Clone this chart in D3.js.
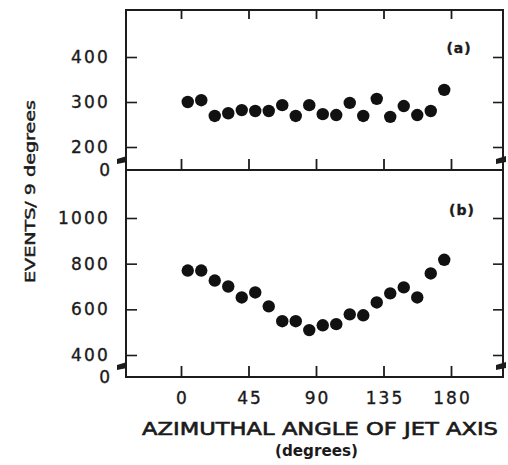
<!DOCTYPE html>
<html>
<head>
<meta charset="utf-8">
<script src="https://cdn.jsdelivr.net/npm/d3@7/dist/d3.min.js"></script>
<style>
  html, body { margin: 0; padding: 0; background: #fff; }
  svg { display: block; }
  text { font-family: "DejaVu Sans", sans-serif; fill: #1a1a1a; stroke: #1a1a1a; stroke-width: 0.35px; }
</style>
</head>
<body>
<svg id="chart" width="508" height="465"></svg>
<script>
// Bin centres (9-degree bins) of the jet-axis azimuthal angle
const angles = [4.5, 13.5, 22.5, 31.5, 40.5, 49.5, 58.5, 67.5, 76.5, 85.5,
                94.5, 103.5, 112.5, 121.5, 130.5, 139.5, 148.5, 157.5, 166.5, 175.5];
// Events per 9 degrees, panel (a)
const eventsA = [300, 304, 269, 275, 282, 280, 280, 293, 269, 293,
                 273, 271, 298, 269, 307, 267, 291, 271, 280, 327];
// Events per 9 degrees, panel (b)
const eventsB = [770, 770, 726, 700, 652, 674, 613, 548, 548, 509,
                 530, 535, 578, 574, 630, 670, 696, 652, 757, 817];

const xTicks = [0, 45, 90, 135, 180];
const yTicksA = [200, 300, 400];
const yTicksB = [400, 600, 800, 1000];

const svg = d3.select("#chart");
const left = 126, right = 503;
const ink = "#1c1c1c";

const x = d3.scaleLinear().domain([0, 180]).range([181, 451]);

const panels = [
  { id: "a", label: "(a)", top: 10, bottom: 170,
    y: d3.scaleLinear().domain([200, 400]).range([147, 57]),
    ticks: yTicksA, data: eventsA, labelY: 53, breakY: 160 },
  { id: "b", label: "(b)", top: 170, bottom: 377,
    y: d3.scaleLinear().domain([400, 1000]).range([355, 218]),
    ticks: yTicksB, data: eventsB, labelY: 215, breakY: 366 }
];

panels.forEach(p => {
  const g = svg.append("g").attr("class", "panel-" + p.id);

  // frame
  g.append("rect")
    .attr("x", left).attr("y", p.top)
    .attr("width", right - left).attr("height", p.bottom - p.top)
    .attr("fill", "none").attr("stroke", ink).attr("stroke-width", 2);

  // left axis with inward ticks
  const yAxisL = d3.axisLeft(p.y).tickValues(p.ticks).tickFormat(d3.format("d"))
    .tickSizeInner(-11).tickSizeOuter(0).tickPadding(16);
  const gl = g.append("g").attr("transform", `translate(${left},0)`).call(yAxisL);
  gl.select(".domain").remove();
  gl.selectAll(".tick line").attr("stroke", ink).attr("stroke-width", 1.6);
  gl.selectAll(".tick text")
    .attr("font-size", 17).attr("letter-spacing", 2.2)
    .attr("fill", ink).attr("font-family", "DejaVu Sans");

  // "0" marks the broken axis at the bottom edge
  g.append("text")
    .attr("x", 110).attr("y", p.bottom).attr("dy", "0.36em")
    .attr("text-anchor", "end").attr("font-size", 17)
    .text("0");

  // right axis with inward ticks
  const yAxisR = d3.axisRight(p.y).tickValues(p.ticks)
    .tickSizeInner(-10).tickSizeOuter(0).tickFormat("");
  const gr = g.append("g").attr("transform", `translate(${right},0)`).call(yAxisR);
  gr.select(".domain").remove();
  gr.selectAll(".tick line").attr("stroke", ink).attr("stroke-width", 1.6);

  // bottom ticks pointing up
  const xAxisB = d3.axisBottom(x).tickValues(xTicks)
    .tickSizeInner(-11).tickSizeOuter(0).tickFormat("");
  const gb = g.append("g").attr("transform", `translate(0,${p.bottom})`).call(xAxisB);
  gb.select(".domain").remove();
  gb.selectAll(".tick line").attr("stroke", ink).attr("stroke-width", 1.8);

  // top ticks pointing down (upper panel only)
  if (p.id === "a") {
    const xAxisT = d3.axisTop(x).tickValues(xTicks)
      .tickSizeInner(-9).tickSizeOuter(0).tickFormat("");
    const gt = g.append("g").attr("transform", `translate(0,${p.top})`).call(xAxisT);
    gt.select(".domain").remove();
    gt.selectAll(".tick line").attr("stroke", ink).attr("stroke-width", 1.8);
  }

  // axis-break marks on both sides
  [left - 4, right - 2].forEach(bx => {
    g.append("path")
      .attr("d", `M${bx - 5},${p.breakY - 1} L${bx + 5},${p.breakY - 4} L${bx + 5},${p.breakY + 2} L${bx - 5},${p.breakY + 4} Z`)
      .attr("fill", ink);
  });

  // data points
  g.append("g").selectAll("circle")
    .data(p.data)
    .join("circle")
    .attr("cx", (d, i) => x(angles[i]))
    .attr("cy", d => p.y(d))
    .attr("r", 6.2)
    .attr("fill", "#111");

  // panel letter
  g.append("text")
    .attr("x", p.id === "a" ? 459 : 462).attr("y", p.labelY)
    .attr("text-anchor", "middle").attr("font-size", 14).attr("font-weight", "bold")
    .attr("letter-spacing", 1)
    .text(p.label);
});

// x tick labels
const xAxisLabels = d3.axisBottom(x).tickValues(xTicks)
  .tickSize(0).tickPadding(0);
const gx = svg.append("g").attr("transform", "translate(1,392)").call(xAxisLabels);
gx.select(".domain").remove();
gx.selectAll(".tick text")
  .attr("font-size", 17).attr("letter-spacing", 2).attr("fill", ink)
  .attr("font-family", "DejaVu Sans").attr("dy", "0.71em");

// axis titles
svg.append("text")
  .attr("x", 142).attr("y", 435)
  .attr("font-size", 17).style("stroke-width", "0.6px")
  .attr("textLength", 356).attr("lengthAdjust", "spacingAndGlyphs")
  .text("AZIMUTHAL ANGLE OF JET AXIS");

svg.append("text")
  .attr("x", 275).attr("y", 456)
  .attr("font-size", 15).attr("font-weight", "bold").style("stroke-width", "0")
  .attr("textLength", 83).attr("lengthAdjust", "spacingAndGlyphs")
  .text("(degrees)");

svg.append("text")
  .attr("transform", "translate(35,283) rotate(-90)")
  .attr("font-size", 14).style("stroke-width", "0.45px")
  .attr("textLength", 183).attr("lengthAdjust", "spacingAndGlyphs")
  .text("EVENTS/ 9 degrees");
</script>
</body>
</html>
